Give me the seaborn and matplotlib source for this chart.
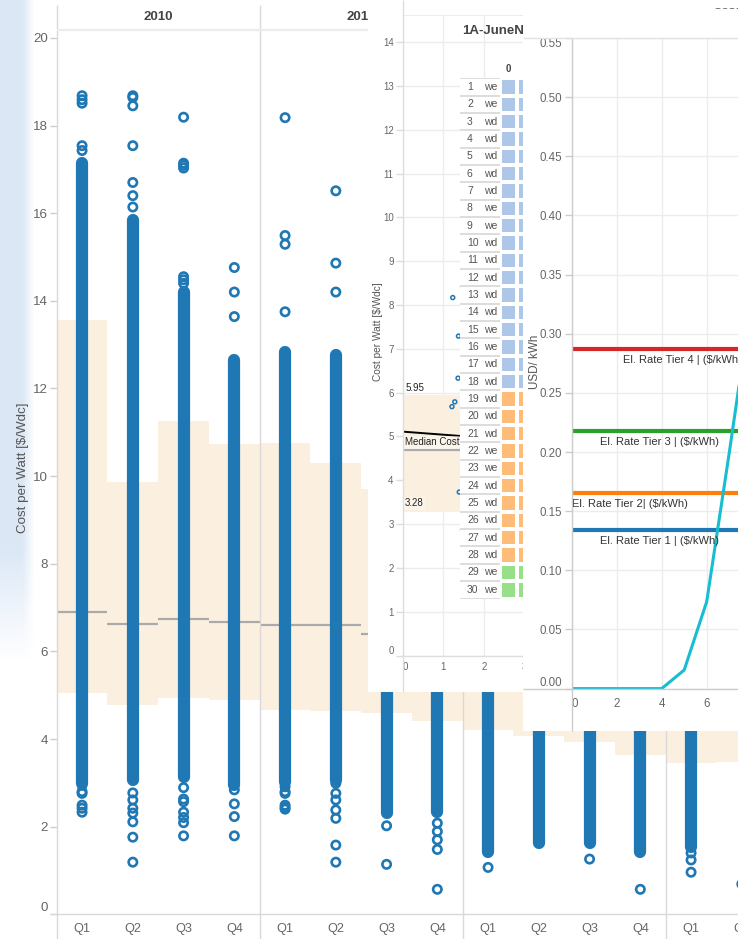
import numpy as np
import pandas as pd
import matplotlib
matplotlib.use("Agg")
import matplotlib.pyplot as plt
from matplotlib.colors import ListedColormap
from matplotlib.lines import Line2D
import seaborn as sns

# ---------------------------------------------------------------- data
YEARS = ["2010", "2011", "2012", "2013"]
QUARTERS = ["Q1", "Q2", "Q3", "Q4"]

# one entry per (year, quarter) slot that is shown
SLOT_YEAR = ["2010"] * 4 + ["2011"] * 4 + ["2012"] * 4 + ["2013"] * 2
SLOT_QUARTER = QUARTERS * 3 + ["Q1", "Q2"]
P10 = [5.06, 4.78, 4.94, 4.88, 4.67, 4.65, 4.60, 4.40, 4.21, 4.07, 3.94, 3.64, 3.46, 3.48]
P90 = [13.57, 9.87, 11.26, 10.73, 10.75, 10.30, 9.70, 9.40, 9.00, 8.60, 8.20, 7.80, 7.40, 7.20]
MEDIAN = [6.90, 6.62, 6.74, 6.67, 6.60, 6.60, 6.40, 6.20, 5.90, 5.70, 5.50, 5.20, 5.00, 4.90]
BULK_LO = [3.00, 3.06, 3.14, 2.95, 3.03, 3.07, 2.31, 2.34, 1.43, 1.62, 1.62, 1.43, 1.54, 1.35]
BULK_HI = [17.15, 15.85, 14.20, 12.65, 12.84, 12.76, 13.00, 12.50, 12.00, 11.50, 11.00, 10.50, 10.00, 9.80]

OUTLIERS_2010 = {
    "Q1": [18.68, 18.59, 18.51, 17.54, 17.43, 2.95, 2.80, 2.76, 2.49, 2.42, 2.33],
    "Q2": [18.68, 18.64, 18.45, 17.54, 16.70, 16.40, 16.14, 2.77, 2.61, 2.42, 2.31, 2.11, 1.76, 1.19],
    "Q3": [18.19, 17.14, 17.09, 17.03, 14.55, 14.48, 14.40, 2.89, 2.63, 2.57, 2.33, 2.21, 2.09, 1.79],
    "Q4": [14.76, 14.20, 13.64, 2.84, 2.52, 2.23, 1.79],
}
OUTLIERS_2011 = {
    "Q1": [18.18, 15.49, 15.29, 13.75, 2.91, 2.80, 2.76, 2.49, 2.44, 2.40],
    "Q2": [16.51, 14.86, 14.20, 2.99, 2.76, 2.61, 2.38, 2.19, 1.58, 1.19],
    "Q3": [2.02, 1.14],
    "Q4": [2.08, 1.89, 1.70, 1.48, 0.57],
}
OUTLIERS_2012 = {"Q1": [1.07], "Q2": [], "Q3": [1.26], "Q4": [0.57]}
OUTLIERS_2013 = {"Q1": [1.40, 1.24, 0.96], "Q2": [0.69]}
OUTLIERS = {"2010": OUTLIERS_2010, "2011": OUTLIERS_2011,
            "2012": OUTLIERS_2012, "2013": OUTLIERS_2013}

# single-system view
SYS_X = [1.23, 1.37, 1.36, 1.21, 1.28, 1.39, 1.47, 1.47]
SYS_Y = [8.17, 7.29, 6.33, 5.68, 5.79, 3.73, 8.40, 2.86]
SYS_BAND = (3.28, 5.95)
SYS_MEDIAN = 4.69
TREND_X = [0, 3]
TREND_Y = [5.11, 4.90]

DAY_NUM = list(range(1, 31))
DAY_TYPE = ["we", "we", "wd", "wd", "wd", "wd", "wd", "we", "we", "wd",
            "wd", "wd", "wd", "wd", "we", "we", "wd", "wd", "wd", "wd",
            "wd", "we", "we", "wd", "wd", "wd", "wd", "wd", "we", "we"]
PERIOD = [0] * 18 + [1] * 10 + [2] * 2
TABLE_HOURS = ["0", "1"]

# tariff view
TIER_NAMES = ["El. Rate Tier 1 | ($/kWh)", "El. Rate Tier 2| ($/kWh)",
              "El. Rate Tier 3 | ($/kWh)", "El. Rate Tier 4 | ($/kWh)"]
TIER_RATES = [0.134, 0.1656, 0.218, 0.287]
HOURS = [0, 1, 2, 3, 4, 5, 6, 7, 8]
USAGE = [0.0, 0.0, 0.0, 0.0, 0.0, 0.0157, 0.0735, 0.199, 0.33]

# ---------------------------------------------------------------- style
BLUE = "#1f77b4"
CREAM = "#fbf0df"
GRID = "#ececec"
RULE = "#d9d9d9"
TIER_COLORS = ["#1f77b4", "#ff7f0e", "#2ca02c", "#d62728"]
TIER_LABEL_X = [1.26, 0.02, 1.26, 2.28]
PERIOD_COLORS = ["#aec7e8", "#ffbb78", "#98df8a"]

sns.set_theme(style="white")
plt.rcParams["font.family"] = ["Liberation Sans", "DejaVu Sans"]

W, H = 738, 939
fig = plt.figure(figsize=(W / 100, H / 100), dpi=100)
fig.patch.set_facecolor("white")


def rect(x0, y0, x1, y1):
    return [x0 / W, 1 - y1 / H, (x1 - x0) / W, (y1 - y0) / H]


def fline(x0, y0, x1, y1, color=RULE, lw=1.0, z=1.2):
    fig.add_artist(Line2D([x0 / W, x1 / W], [1 - y0 / H, 1 - y1 / H],
                          transform=fig.transFigure, color=color, lw=lw,
                          zorder=z, solid_capstyle="butt"))


def ftext(x, y, s, z=1.2, **kw):
    fig.text(x / W, 1 - y / H, s, zorder=z, **kw)


def plain(ax):
    for sp in ax.spines.values():
        sp.set_visible(False)
    ax.set_xticks([])
    ax.set_yticks([])


# ---------------------------------------------------------------- backdrop strip
strip = fig.add_axes(rect(0, 0, 34, 660), zorder=1.1)
yy, xx = np.mgrid[0:660, 0:34]
img = np.zeros((660, 34, 4))
img[..., 0], img[..., 1], img[..., 2] = 0.85, 0.90, 0.965
fade_x = np.clip((34 - xx) / 12.0, 0, 1)
fade_y = np.clip((660 - yy) / 110.0, 0, 1)
img[..., 3] = 0.9 * fade_x * fade_y
strip.imshow(img, aspect="auto", interpolation="bilinear")
strip.axis("off")

# ---------------------------------------------------------------- faceted strip plot
slots = pd.DataFrame({"year": SLOT_YEAR, "quarter": SLOT_QUARTER, "p10": P10,
                      "p90": P90, "median": MEDIAN, "lo": BULK_LO, "hi": BULK_HI})
slots["pos"] = slots["quarter"].map(QUARTERS.index)

rows = [(y, q, v) for y, d in OUTLIERS.items() for q, vals in d.items() for v in vals]
outl = pd.DataFrame(rows, columns=["year", "quarter", "cost"])
outl["pos"] = outl["quarter"].map(QUARTERS.index)

PX0, PW, TOP, BOT = 56.7, 203.0, 30.0, 914.3
for k, year in enumerate(YEARS):
    ax = fig.add_axes(rect(PX0 + k * PW, TOP, PX0 + (k + 1) * PW, BOT), zorder=1)
    ax.set_facecolor("none")
    for sp in ax.spines.values():
        sp.set_visible(False)
    sub = slots[slots["year"] == year]
    ax.bar(sub["pos"], sub["p90"] - sub["p10"], bottom=sub["p10"], width=1.0,
           color=CREAM, linewidth=0, zorder=1)
    ax.hlines(sub["median"], sub["pos"] - 0.5, sub["pos"] + 0.5,
              color="#aaaaaa", lw=1.6, zorder=2)
    ax.vlines(sub["pos"], sub["lo"], sub["hi"], color=BLUE, lw=8.8,
              capstyle="round", zorder=3)
    osub = outl[outl["year"] == year]
    if len(osub):
        sns.scatterplot(data=osub, x="pos", y="cost", ax=ax, marker="o", s=36,
                        facecolor="none", edgecolor=BLUE, linewidth=1.9,
                        zorder=4, legend=False)
    ax.set_xlim(-0.5, 3.5)
    ax.set_ylim(0, 20.18)
    ax.set_xlabel("")
    ax.set_ylabel("")
    ax.set_xticks(range(4))
    ax.set_xticklabels(QUARTERS)
    ax.tick_params(axis="x", length=0, pad=6, labelsize=9.2, labelcolor="#666666")
    if k == 0:
        ax.set_yticks(range(0, 21, 2))
        ax.tick_params(axis="y", left=True, length=5, width=1, color="#cccccc",
                       pad=1.5, labelsize=9.6, labelcolor="#666666")
        ax.yaxis.get_major_ticks()[0].label1.set_va("bottom")
    else:
        ax.set_yticks([])
    ftext(PX0 + (k + 0.5) * PW, 17, year, ha="center", va="center",
          fontsize=9.5, fontweight="bold", color="#444444")

for k in range(5):
    fline(PX0 + k * PW, 5, PX0 + k * PW, 939)
fline(PX0, 30, W, 30, color="#ececec", lw=1.6)
fline(50, BOT, W, BOT)
ftext(23, 468, "Cost per Watt [$/Wdc]", rotation=90, ha="center", va="center",
      fontsize=9.6, color="#555555")

# ---------------------------------------------------------------- single-system view
w2 = fig.add_axes(rect(368, 0, 760, 692), zorder=2)
w2.set_facecolor("white")
plain(w2)

ax2 = fig.add_axes(rect(402.7, 15, 760, 655.5), zorder=2.1)
ax2.set_facecolor("none")
for sp in ax2.spines.values():
    sp.set_visible(False)
ax2.set_xlim(0, (760 - 402.7) / 40.7)
ax2.set_ylim(0, 14.62)
ax2.set_yticks(range(15))
ax2.set_xticks(range(9))
ax2.grid(True, color=GRID, lw=1)
ax2.axhline(14.62, color=GRID, lw=1.4)
ax2.axhspan(*SYS_BAND, color=CREAM, lw=0, zorder=1)
ax2.axhline(SYS_MEDIAN, color="#aaaaaa", lw=1.6, zorder=2)
ax2.plot(TREND_X, TREND_Y, color="black", lw=1.4, zorder=3)
sns.scatterplot(x=SYS_X, y=SYS_Y, ax=ax2, marker="o", s=8, facecolor="none",
                edgecolor=BLUE, linewidth=1.1, zorder=4, legend=False)
ax2.tick_params(axis="y", left=True, length=5, width=1, color="#dddddd", pad=1.5,
                labelsize=7, labelcolor="#666666")
ax2.tick_params(axis="x", length=0, pad=5, labelsize=7, labelcolor="#666666")
ax2.yaxis.get_major_ticks()[0].label1.set_va("bottom")
ax2.xaxis.get_major_ticks()[0].label1.set_ha("left")
box = dict(fc="white", alpha=0.4, ec="none", pad=1)
ax2.annotate(f"{SYS_BAND[1]:.2f}", xy=(0.06, SYS_BAND[1]), xytext=(0, 1.5),
             textcoords="offset points", va="bottom", fontsize=7, color="#222222",
             zorder=5)
ax2.annotate(f"{SYS_BAND[0]:.2f}", xy=(0.06, SYS_BAND[0]), xytext=(0, 2.5),
             textcoords="offset points", va="bottom", fontsize=7, color="#222222",
             bbox=box, zorder=5)
ax2.text(0.06, 4.87, "Median Cost", va="center", fontsize=7, color="#222222",
         bbox=box, zorder=5)
fline(402.7, 0, 402.7, 692, color="#dddddd", z=2.15)
fline(402.7, 655.5, 760, 655.5, color="#dddddd", z=2.15)
ftext(378, 332, "Cost per Watt [$/Wdc]", z=2.15, rotation=90, ha="center",
      va="center", fontsize=7.3, color="#555555")
ftext(462, 31, "1A-JuneNetMetering", z=2.15, ha="left", va="center",
      fontsize=9.5, fontweight="bold", color="#444444")

# day table
ROW_TOP, ROW_H = 78.3, 17.34
ROW_BOT = ROW_TOP + ROW_H * len(DAY_NUM)
tl = fig.add_axes(rect(460, ROW_TOP, 500, ROW_BOT), zorder=2.2)
tl.set_facecolor("white")
plain(tl)
tl.set_xlim(0, 40)
tl.set_ylim(len(DAY_NUM), 0)
for i, (n, t) in enumerate(zip(DAY_NUM, DAY_TYPE)):
    tl.text(7, i + 0.5, str(n), va="center", ha="left", fontsize=7.5, color="#555555")
    tl.text(24, i + 0.5, t, va="center", ha="left", fontsize=7.5, color="#555555")
tl.hlines(np.arange(0, len(DAY_NUM) + 1), 0, 40, color="#dddddd", lw=1.4)

th = fig.add_axes(rect(499.5, ROW_TOP, 499.5 + ROW_H * len(TABLE_HOURS), ROW_BOT),
                  zorder=2.2)
mat = pd.DataFrame({h: PERIOD for h in TABLE_HOURS}, index=DAY_NUM)
sns.heatmap(mat, ax=th, cmap=ListedColormap(PERIOD_COLORS), vmin=-0.5, vmax=2.5,
            cbar=False, linewidths=1.5, linecolor="white", yticklabels=False)
th.xaxis.tick_top()
th.tick_params(axis="x", length=0, pad=3, labelsize=7, labelcolor="#444444")
for lab in th.get_xticklabels():
    lab.set_fontweight("bold")
th.set_xlabel("")
th.set_ylabel("")

# ---------------------------------------------------------------- tariff view
w3 = fig.add_axes(rect(523, 0, 760, 730.7), zorder=3)
w3.set_facecolor("white")
plain(w3)

ax3 = fig.add_axes(rect(571.7, 38, 760, 688.6), zorder=3.1)
ax3.set_facecolor("none")
for sp in ax3.spines.values():
    sp.set_visible(False)
ax3.set_xlim(0, (760 - 571.7) / 22.5)
ax3.set_ylim(0, 0.55)
ax3.set_yticks(np.round(np.arange(0, 0.551, 0.05), 2))
ax3.set_yticklabels([f"{v:.2f}" for v in np.arange(0, 0.551, 0.05)])
ax3.set_xticks(range(0, 9, 2))
ax3.grid(True, color=GRID, lw=1)
for name, rate, col, lx in zip(TIER_NAMES, TIER_RATES, TIER_COLORS, TIER_LABEL_X):
    ax3.axhline(rate, color=col, lw=3, zorder=3)
    ax3.annotate(name, xy=(lx, rate), xytext=(0, -7.8), textcoords="offset points",
                 va="center", ha="left", fontsize=8, color="#333333", zorder=5)
sns.lineplot(x=HOURS, y=USAGE, ax=ax3, color="#17becf", lw=2.2, zorder=4)
ax3.tick_params(axis="y", left=True, length=5, width=1, color="#cccccc", pad=2,
                labelsize=8.3, labelcolor="#666666")
ax3.tick_params(axis="x", length=0, pad=7, labelsize=8.3, labelcolor="#666666")
yt = ax3.yaxis.get_major_ticks()
yt[0].label1.set_va("bottom")
yt[-1].label1.set_va("top")
ax3.xaxis.get_major_ticks()[0].label1.set_ha("left")
fline(571.7, 38, 571.7, 730.7, color="#cccccc", z=3.2)
fline(523, 688.6, 760, 688.6, color="#cccccc", z=3.2)
fline(523, 38, 760, 38, color="#e2e2e2", z=3.2)
ftext(535, 362, "USD/ kWh", z=3.2, rotation=90, ha="center", va="center",
      fontsize=8.4, color="#555555")

# title of the tariff view, its upper part tucked under the header band
ftext(712, 6, "Cost", z=3.2, ha="left", va="center", fontsize=9.5,
      color="#666666")
band = fig.add_axes(rect(690, 0, 760, 7.5), zorder=3.3)
band.set_facecolor("white")
plain(band)

fig.savefig("out.png", dpi=100, facecolor="white")
